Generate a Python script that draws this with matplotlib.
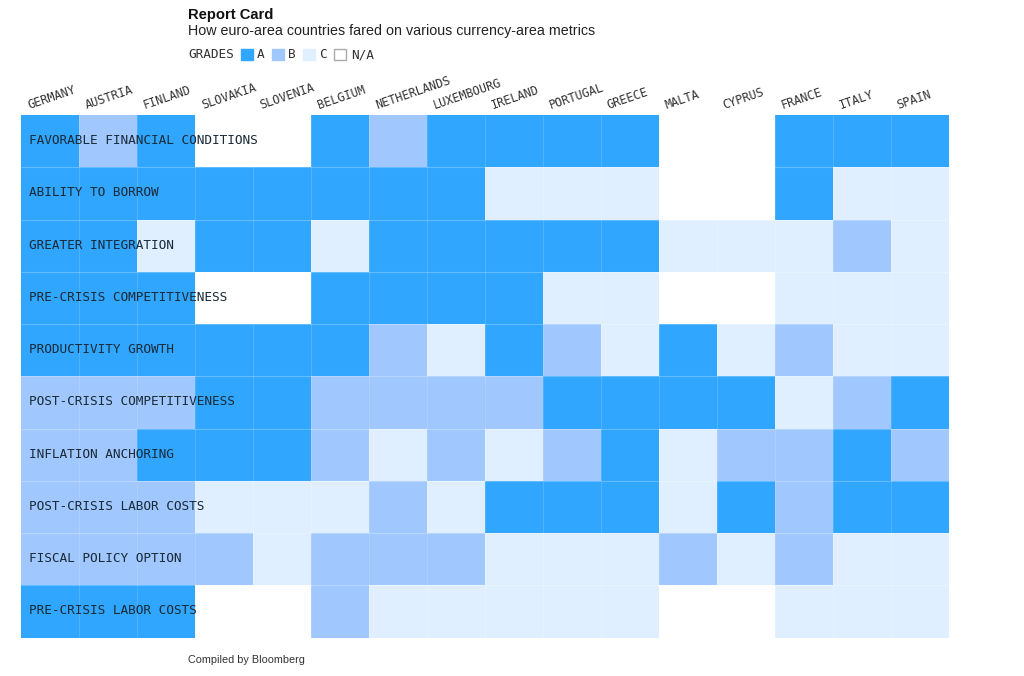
import numpy as np
import matplotlib
matplotlib.use("Agg")
import matplotlib.pyplot as plt
from matplotlib.colors import ListedColormap
from matplotlib.patches import Rectangle

countries = ["GERMANY", "AUSTRIA", "FINLAND", "SLOVAKIA", "SLOVENIA", "BELGIUM",
             "NETHERLANDS", "LUXEMBOURG", "IRELAND", "PORTUGAL", "GREECE", "MALTA",
             "CYPRUS", "FRANCE", "ITALY", "SPAIN"]
metrics = ["FAVORABLE FINANCIAL CONDITIONS", "ABILITY TO BORROW", "GREATER INTEGRATION",
           "PRE-CRISIS COMPETITIVENESS", "PRODUCTIVITY GROWTH", "POST-CRISIS COMPETITIVENESS",
           "INFLATION ANCHORING", "POST-CRISIS LABOR COSTS", "FISCAL POLICY OPTION",
           "PRE-CRISIS LABOR COSTS"]
grades = ["ABAXXABAAAAXXAAA",
          "AAAAAAAACCCXXACC",
          "AACAACAAAAACCCBC",
          "AAAXXAAAACCXXCCC",
          "AAAAAABCABCACBCC",
          "BBBAABBBBAAAACBA",
          "BBAAABCBCBACBBAB",
          "BBBCCCBCAAACABAA",
          "BBBBCBBBCCCBCBCC",
          "AAAXXBCCCCCXXCCC"]
legend_labels = ["A", "B", "C", "N/A"]
grade_order = "ABCX"
palette = ["#30A6FF", "#A0C8FF", "#E0EFFF", "#FFFFFF"]

W, H = 1024, 676
MONO = "DejaVu Sans Mono"
SANS = "Liberation Sans"

fig = plt.figure(figsize=(W / 100, H / 100), dpi=100, facecolor="white")
ax = fig.add_axes([21 / W, 1 - 637.5 / H, 927.5 / W, 522.5 / H])

codes = np.array([[grade_order.index(g) for g in row] for row in grades])
ax.pcolormesh(np.arange(len(countries) + 1), np.arange(len(metrics) + 1), codes,
              cmap=ListedColormap(palette), vmin=-0.5, vmax=3.5, antialiased=False)
ax.vlines(np.arange(1, len(countries)), 0, len(metrics), color="white", alpha=0.14, linewidth=0.8)
ax.hlines(np.arange(1, len(metrics)), 0, len(countries), color="white", alpha=0.25, linewidth=0.8)
ax.set_xlim(0, len(countries))
ax.set_ylim(len(metrics), 0)
ax.axis("off")

for i, name in enumerate(countries):
    ax.text(i + 0.14, -0.12, name, family=MONO, fontsize=8.6, color="#333333",
            rotation=19, rotation_mode="anchor", ha="left", va="baseline", clip_on=False)
for j, name in enumerate(metrics):
    ax.text(0.13, j + 0.49, name, family=MONO, fontsize=9.15, color="#1A2A38",
            ha="left", va="center", clip_on=False)

def fy(y):
    return 1 - y / H

fig.text(188 / W, fy(14.5), "Report Card", family=SANS, fontweight="bold", fontsize=10.6,
         color="#111111", va="center")
fig.text(188 / W, fy(31.5), "How euro-area countries fared on various currency-area metrics",
         family=SANS, fontsize=10.25, color="#222222", va="center")
fig.text(188 / W, fy(54.5), "GRADES", family=MONO, fontsize=9.2, color="#333333", va="center")
for x_box, x_txt, label, col in zip([241, 272, 303, 334], [257, 288, 319, 351],
                                    legend_labels, palette):
    edge = "#AAAAAA" if label == "N/A" else col
    fig.add_artist(Rectangle((x_box / W, fy(60)), 11.5 / W, 11.5 / H, transform=fig.transFigure,
                             facecolor=col, edgecolor=edge, linewidth=1))
    fig.text(x_txt / W, fy(54.5), label, family=MONO, fontsize=9.2, color="#333333", va="center")
fig.text(188 / W, fy(660), "Compiled by Bloomberg", family=SANS, fontsize=7.8,
         color="#333333", va="center")

fig.savefig("out.png", dpi=100)
